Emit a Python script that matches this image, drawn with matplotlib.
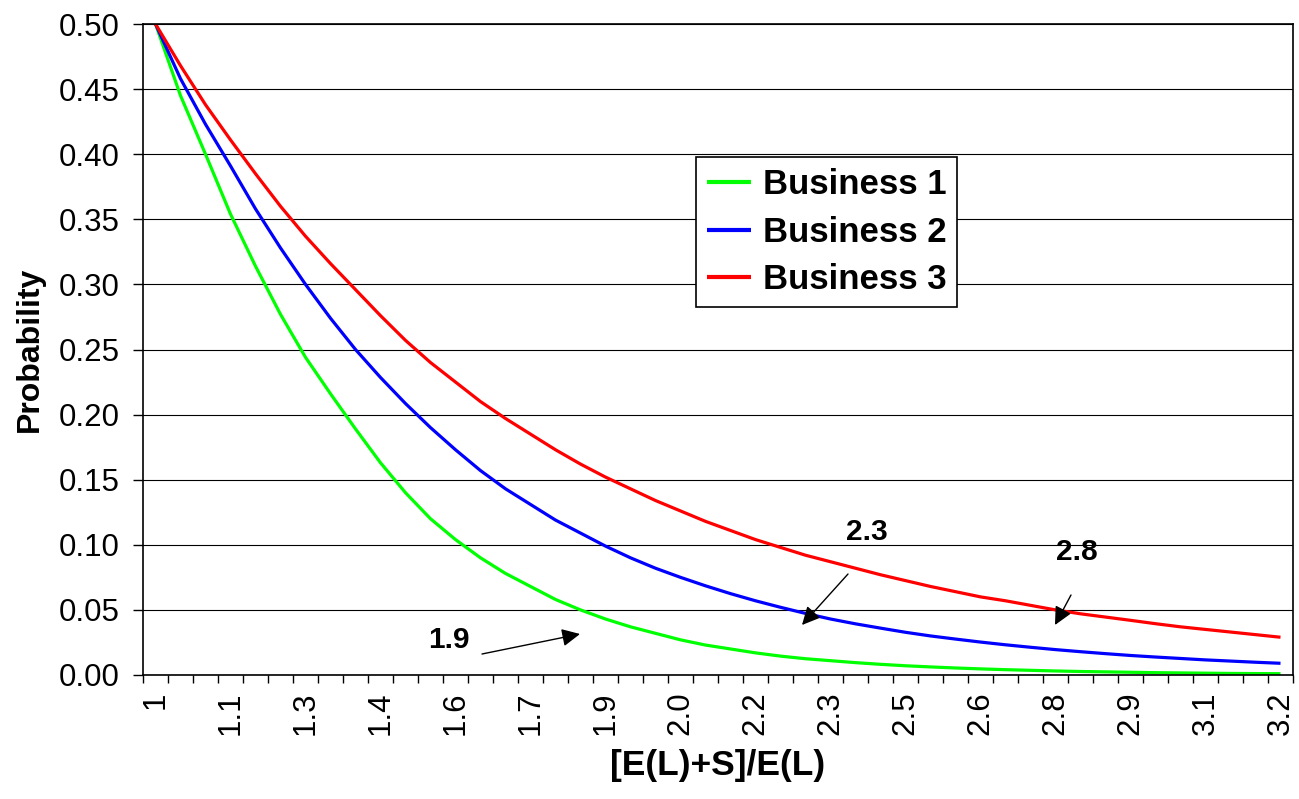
import matplotlib
matplotlib.use("Agg")
import matplotlib.pyplot as plt

plt.rcParams['font.family'] = ['Liberation Sans', 'DejaVu Sans']

# Categories ([E(L)+S]/E(L))
x_values = [1.00, 1.05, 1.10, 1.15, 1.20, 1.25, 1.30, 1.35, 1.40, 1.45,
            1.50, 1.55, 1.60, 1.65, 1.70, 1.75, 1.80, 1.85, 1.90, 1.95,
            2.00, 2.05, 2.10, 2.15, 2.20, 2.25, 2.30, 2.35, 2.40, 2.45,
            2.50, 2.55, 2.60, 2.65, 2.70, 2.75, 2.80, 2.85, 2.90, 2.95,
            3.00, 3.05, 3.10, 3.15, 3.20, 3.25]

business1 = [0.500, 0.445, 0.400, 0.354, 0.314, 0.277, 0.244, 0.216, 0.189, 0.163,
             0.140, 0.120, 0.104, 0.090, 0.078, 0.068, 0.058, 0.050, 0.043, 0.037,
             0.032, 0.027, 0.023, 0.020, 0.017, 0.0145, 0.0125, 0.011, 0.0095, 0.0082,
             0.0071, 0.0062, 0.0054, 0.0047, 0.0041, 0.0036, 0.0031, 0.0027, 0.0024, 0.0021,
             0.0018, 0.0016, 0.0014, 0.0012, 0.0011, 0.0010]

business2 = [0.500, 0.458, 0.423, 0.391, 0.358, 0.328, 0.300, 0.274, 0.250, 0.2285,
             0.2085, 0.190, 0.173, 0.157, 0.143, 0.131, 0.119, 0.109, 0.099, 0.090,
             0.082, 0.075, 0.0685, 0.0625, 0.057, 0.052, 0.0473, 0.043, 0.0393, 0.036,
             0.0328, 0.030, 0.0276, 0.0253, 0.0232, 0.0213, 0.0195, 0.0179, 0.0164, 0.0150,
             0.0138, 0.0127, 0.0116, 0.0107, 0.0098, 0.0090]

business3 = [0.500, 0.468, 0.438, 0.411, 0.385, 0.360, 0.337, 0.316, 0.296, 0.276,
             0.257, 0.240, 0.225, 0.210, 0.197, 0.185, 0.173, 0.162, 0.152, 0.143,
             0.134, 0.126, 0.118, 0.111, 0.104, 0.098, 0.092, 0.087, 0.082, 0.077,
             0.0725, 0.068, 0.064, 0.060, 0.057, 0.0535, 0.050, 0.047, 0.0445, 0.042,
             0.0394, 0.037, 0.035, 0.033, 0.031, 0.029]

x_tick_labels = ["1", "1.1", "1.3", "1.4", "1.6", "1.7", "1.9", "2.0",
                 "2.2", "2.3", "2.5", "2.6", "2.8", "2.9", "3.1", "3.2"]
series_names = ["Business 1", "Business 2", "Business 3"]
series_colors = ["#00FF00", "#0000FF", "#FF0000"]

y_ticks = [0.00, 0.05, 0.10, 0.15, 0.20, 0.25, 0.30, 0.35, 0.40, 0.45, 0.50]

annot_labels = ["1.9", "2.3", "2.8"]

fig = plt.figure(figsize=(12.99, 7.99), dpi=100)
ax = fig.add_axes([143/1299, 1 - 675/799, 1150/1299, 651/799])

idx = list(range(len(x_values)))
for vals, name, col in zip([business1, business2, business3], series_names, series_colors):
    ax.plot(idx, vals, color=col, lw=2.3, label=name, solid_capstyle='butt')

ax.set_xlim(-0.5, len(x_values) - 0.5)
ax.set_ylim(0, 0.5)

# y axis
ax.set_yticks(y_ticks)
ax.set_yticklabels([f"{v:.2f}" for v in y_ticks])
ax.tick_params(axis='y', direction='out', length=7, width=1, labelsize=22.5, pad=10)
ax.yaxis.grid(True, color='black', lw=0.8)
ax.set_axisbelow(True)

# x axis: tick marks at category boundaries, labels every 3rd category
ax.set_xticks([i - 0.5 for i in range(len(x_values) + 1)])
ax.set_xticklabels([])
ax.tick_params(axis='x', which='major', direction='out', length=6, width=1)
label_pos = idx[::3]
ax.set_xticks(label_pos, minor=True)
ax.set_xticklabels(x_tick_labels, minor=True, rotation=90, fontsize=22.5, va='top')
ax.tick_params(axis='x', which='minor', length=0, pad=12)

for s in ax.spines.values():
    s.set_color('black')
    s.set_linewidth(1.2)

ax.set_xlabel("[E(L)+S]/E(L)", fontsize=25.5, fontweight='bold', labelpad=10)
ax.set_ylabel("Probability", fontsize=23, fontweight='bold', labelpad=10)

leg = ax.legend(loc='upper left', bbox_to_anchor=((696-143)/1150, (675-157)/651),
                prop={'weight': 'bold', 'size': 25}, frameon=True, fancybox=False,
                edgecolor='black', framealpha=1, handlelength=1.25, handletextpad=0.35,
                labelspacing=0.42, borderpad=0.32, borderaxespad=0)
leg.get_frame().set_linewidth(1.2)
for ln in leg.get_lines():
    ln.set_linewidth(3)

def cat(px):
    return (px - 143) / 25 - 0.5

def prob(py):
    return (675 - py) / 1302

text_pos = [(449, 640), (867, 532), (1077, 552)]
tails = [(482, 654), (848, 574), (1071, 595)]
heads = [(580, 634), (802, 625), (1055, 625)]
arrow = dict(arrowstyle='-|>,head_length=0.55,head_width=0.27', mutation_scale=20,
             color='black', lw=1.0, shrinkA=0, shrinkB=0)
for lab, tp, tl, hd in zip(annot_labels, text_pos, tails, heads):
    ax.text(cat(tp[0]), prob(tp[1]), lab, fontsize=21.5, fontweight='bold',
            ha='center', va='center')
    ax.annotate("", xy=(cat(hd[0]), prob(hd[1])), xytext=(cat(tl[0]), prob(tl[1])),
                arrowprops=arrow)

fig.savefig("out.png", dpi=100)
